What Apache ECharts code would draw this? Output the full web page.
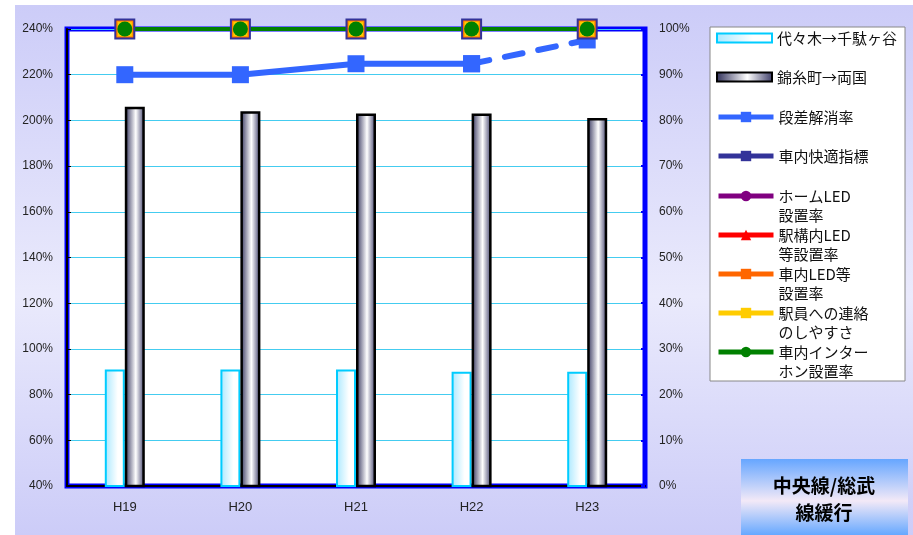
<!DOCTYPE html>
<html><head><meta charset="utf-8">
<script src="https://cdn.jsdelivr.net/npm/echarts@6/dist/echarts.min.js"></script>
<style>
html,body{margin:0;padding:0;background:#fff;}
#c{width:913px;height:535px;background:linear-gradient(180deg,#ccccf8 0%,#eaeafc 55%,#ccccf8 100%) 15px 5px/898px 530px no-repeat,#fff;}
</style></head><body><div id="c"></div>
<script>
// ---- data ----
const categories = ['H19', 'H20', 'H21', 'H22', 'H23'];
const yoyogiSendagaya = [91, 91, 91, 90, 90];
const kinshichoRyogoku = [206, 204, 203, 203, 201];
const dansaKaisho = [90, 90, 92.4, 92.4, null];
const dansaKaishoPlan = [null, null, null, 92.4, 97.6];
const shanaiKaiteki = [100, 100, 100, 100, 100];
const homeLED = [100, 100, 100, 100, 100];
const ekiLED = [100, 100, 100, 100, 100];
const shanaiLED = [100, 100, 100, 100, 100];
const ekiinRenraku = [100, 100, 100, 100, 100];
const interphone = [100, 100, 100, 100, 100];
const leftAxis = { min: 40, max: 240, interval: 20 };
const rightAxis = { min: 0, max: 100, interval: 10 };
const seriesNames = ['代々木→千駄ヶ谷', '錦糸町→両国', '段差解消率', '車内快適指標',
  'ホームLED\n設置率', '駅構内LED\n等設置率', '車内LED等\n設置率', '駅員への連絡\nのしやすさ', '車内インター\nホン設置率'];
const titleText = '中央線/総武\n線緩行';

// ---- chart ----
const G = echarts.graphic;
const font = "'Liberation Sans', Arial, 'Noto Sans CJK JP', sans-serif";
const jfont = "'Noto Sans CJK JP', sans-serif";
const chart = echarts.init(document.getElementById('c'), null, { renderer: 'canvas' });

const cyanFill = new G.LinearGradient(0, 0, 1, 0, [
  { offset: 0, color: '#a8e8ff' }, { offset: 0.65, color: '#ffffff' }, { offset: 1, color: '#ffffff' }]);
const darkFill = new G.LinearGradient(0, 0, 1, 0, [
  { offset: 0, color: '#2e2e58' }, { offset: 0.55, color: '#ffffff' }, { offset: 1, color: '#3a3a66' }]);

function flatLine(name, data, color, symbol, size, width, border) {
  return {
    name, type: 'line', yAxisIndex: 1, data, symbol, symbolSize: size,
    lineStyle: { color, width },
    itemStyle: { color, borderColor: border || color, borderWidth: border ? 1 : 0 },
    emphasis: { disabled: true }
  };
}

const legendCenters = [38, 77, 117, 156, 196, 235, 274, 313, 352];
const legends = seriesNames.map((n, i) => {
  const two = n.indexOf('\n') >= 0;
  const isBar = i < 2;
  const h = two ? 57 : 19;
  const leg = {
    data: [n], left: 716, top: legendCenters[i] - h / 2, orient: 'vertical', padding: 0,
    itemWidth: 55, itemHeight: isBar ? 9 : 13, selectedMode: false,
    formatter: two ? (name => ' \n' + name) : '{name}',
    lineStyle: { width: 5 },
    textStyle: { fontSize: 15, fontFamily: jfont, color: '#111', lineHeight: 19 }
  };
  if (isBar) leg.icon = 'rect';
  else leg.itemStyle = { borderWidth: 0 };
  return leg;
});

chart.setOption({
  backgroundColor: 'transparent',
  animation: false,
  graphic: [
    { type: 'rect', x: 710, y: 27, shape: { width: 195, height: 354 },
      style: { fill: '#fff', stroke: '#888', lineWidth: 1 }, z: 1 },
    { type: 'rect', x: 741, y: 459, shape: { width: 167, height: 76 }, z: 1,
      style: { fill: new G.LinearGradient(0, 0, 0, 1, [
        { offset: 0, color: '#66a6ff' }, { offset: 0.55, color: '#f3e9f7' }, { offset: 1, color: '#66a8ff' }]) } },
    { type: 'text', z: 2, x: 824, y: 472,
      style: { text: titleText, fontSize: 19, fontWeight: 'bold', fontFamily: jfont,
        fill: '#000', lineHeight: 27, align: 'center', verticalAlign: 'top' } }
  ],
  legend: legends,
  grid: { left: 67, right: 268, top: 29, bottom: 49, show: true, backgroundColor: '#fff',
    borderColor: '#0000ff', borderWidth: 5 },
  xAxis: {
    type: 'category', data: categories, boundaryGap: true,
    axisLine: { lineStyle: { color: '#000', width: 2 } },
    axisTick: { inside: true, length: 4, lineStyle: { color: '#333' } },
    axisLabel: { color: '#222', fontSize: 13, fontFamily: font, margin: 15 }
  },
  yAxis: [
    { type: 'value', min: leftAxis.min, max: leftAxis.max, interval: leftAxis.interval,
      axisLine: { show: true, lineStyle: { color: '#000', width: 2 } },
      axisTick: { show: true, inside: true, length: 4, lineStyle: { color: '#000' } },
      axisLabel: { color: '#222', fontSize: 12, fontFamily: font, margin: 14, formatter: '{value}%' },
      splitLine: { show: true, lineStyle: { color: '#44ccf0', width: 1 } } },
    { type: 'value', min: rightAxis.min, max: rightAxis.max, interval: rightAxis.interval, position: 'right',
      axisLine: { show: true, lineStyle: { color: '#0000ff', width: 4 } },
      axisTick: { show: true, inside: true, length: 4, lineStyle: { color: '#0000ff', width: 2 } },
      axisLabel: { color: '#222', fontSize: 12, fontFamily: font, margin: 14, formatter: '{value}%' },
      splitLine: { show: false } }
  ],
  series: [
    { name: seriesNames[0], type: 'bar', data: yoyogiSendagaya, barWidth: 20, barGap: '0%',
      itemStyle: { color: cyanFill, borderColor: '#00ccff', borderWidth: 2 } },
    { name: seriesNames[1], type: 'bar', data: kinshichoRyogoku, barWidth: 20, barGap: '0%',
      itemStyle: { color: darkFill, borderColor: '#000', borderWidth: 2.5 } },
    { name: seriesNames[2], type: 'line', yAxisIndex: 1, data: dansaKaisho, symbol: 'rect', symbolSize: 17,
      lineStyle: { color: '#3366ff', width: 6 }, itemStyle: { color: '#3366ff' } },
    { name: seriesNames[2], type: 'line', yAxisIndex: 1, data: dansaKaishoPlan, symbol: 'rect', symbolSize: 17,
      showSymbol: true, lineStyle: { color: '#3366ff', width: 6, type: [18, 16], cap: 'round' },
      itemStyle: { color: '#3366ff' } },
    flatLine(seriesNames[3], shanaiKaiteki, '#333399', 'rect', 21, 3),
    flatLine(seriesNames[4], homeLED, '#800080', 'circle', 11, 3),
    flatLine(seriesNames[5], ekiLED, '#ff0000', 'triangle', 11, 3),
    flatLine(seriesNames[6], shanaiLED, '#ff6600', 'rect', 17, 3),
    flatLine(seriesNames[7], ekiinRenraku, '#ffcc00', 'rect', 15, 3, '#ff9900'),
    flatLine(seriesNames[8], interphone, '#008000', 'circle', 15, 4)
  ]
});
</script></body></html>
